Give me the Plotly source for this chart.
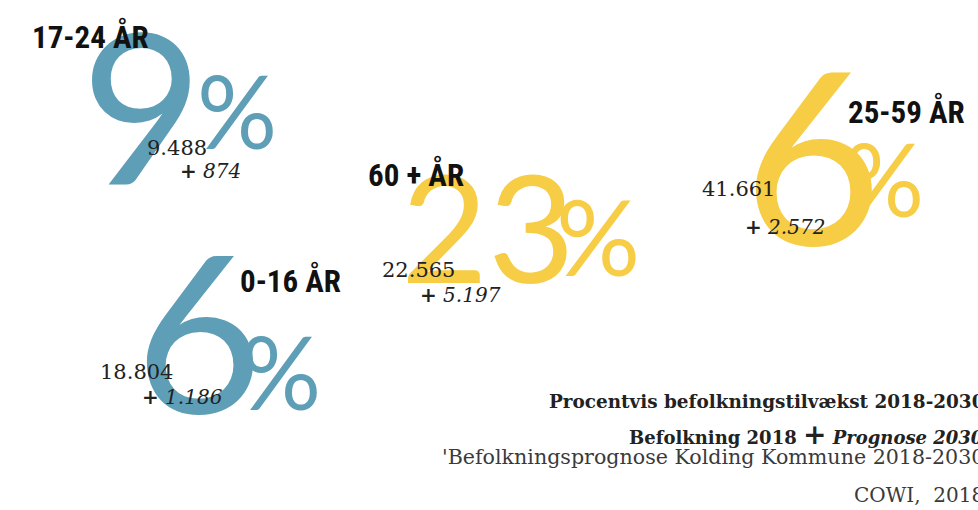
import plotly.graph_objects as go

# ---- data ----
groups = ["17-24 ÅR", "60 + ÅR", "25-59 ÅR", "0-16 ÅR"]
growth_pct = [9, 23, 6, 6]
pop_2018 = [9488, 22565, 41661, 18804]
increase_2030 = [874, 5197, 2572, 1186]
title_lines = [
    "Procentvis befolkningstilvækst 2018-2030",
    "Befolkning 2018",
    "Prognose 2030",
    "'Befolkningsprognose Kolding Kommune 2018-2030",
    "COWI,  2018",
]

# ---- styling / layout (pixel positions of each block, as seen on the page) ----
BLUE = "#5e9eb6"
YELLOW = "#f6cd45"
colors = [BLUE, YELLOW, YELLOW, BLUE]
digit_pos = [(142, 104), (488, 225), (812, 152), (199, 328)]
digit_size = [210, 150, 240, 220]
pct_pos = [(237, 110), (598, 235), (884, 178), (281, 371)]
pct_size = [100, 105, 100, 100]
label_pos = [(30, 36), (366, 174), (846, 111), (238, 280)]
pop_pos = [(145, 148), (380, 270), (700, 189), (98, 372)]
inc_pos = [(178, 171), (418, 295), (743, 227), (140, 397)]
foot_right = 986
foot_y = [401, 434, 457, 495]
foot_size = [18.4, 18, 20.6, 20]

BIG_FONT = "Lato, Open Sans, sans-serif"
LABEL_FONT = "Liberation Sans Narrow, Roboto Condensed, Noto Sans Condensed, DejaVu Sans Condensed, sans-serif"
NUM_FONT = "DejaVu Serif, Liberation Serif, serif"

W, H = 978, 510


def dk(n):
    return f"{n:,}".replace(",", ".")


fig = go.Figure()
fig.add_trace(go.Scatter(x=[0, W], y=[0, H], mode="markers",
                         marker=dict(opacity=0), hoverinfo="skip", showlegend=False))

ann = []
for i, g in enumerate(groups):
    ann.append(dict(x=digit_pos[i][0], y=digit_pos[i][1], text=str(growth_pct[i]),
                    font=dict(family=BIG_FONT, size=digit_size[i], color=colors[i]),
                    xanchor="center", yanchor="middle", showarrow=False))
    ann.append(dict(x=pct_pos[i][0], y=pct_pos[i][1], text="%",
                    font=dict(family=BIG_FONT, size=pct_size[i], color=colors[i]),
                    xanchor="center", yanchor="middle", showarrow=False))
for i, g in enumerate(groups):
    ann.append(dict(x=label_pos[i][0], y=label_pos[i][1], text=f"<b>{g}</b>",
                    font=dict(family=LABEL_FONT, size=31, color="#111111"),
                    xanchor="left", yanchor="middle", showarrow=False))
    ann.append(dict(x=pop_pos[i][0], y=pop_pos[i][1], text=dk(pop_2018[i]),
                    font=dict(family=NUM_FONT, size=21, color="#222222"),
                    xanchor="left", yanchor="middle", showarrow=False))
    ann.append(dict(x=inc_pos[i][0], y=inc_pos[i][1], text=f"<i><b>+</b> {dk(increase_2030[i])}</i>",
                    font=dict(family=NUM_FONT, size=20, color="#222222"),
                    xanchor="left", yanchor="middle", showarrow=False))

foot_text = [
    f"<b>{title_lines[0]}</b>",
    f"<b>{title_lines[1]} </b><span style='font-size:28px'><b>+</b></span><b><i> {title_lines[2]}</i></b>",
    title_lines[3],
    title_lines[4],
]
foot_color = ["#222222", "#222222", "#3a3a3a", "#3a3a3a"]
for t, yv, s, c in zip(foot_text, foot_y, foot_size, foot_color):
    ann.append(dict(xref="paper", yref="paper", x=foot_right / W, y=1 - yv / H, text=t,
                    font=dict(family=NUM_FONT, size=s, color=c),
                    xanchor="right", yanchor="middle", showarrow=False))

fig.update_layout(
    width=W, height=H,
    margin=dict(l=0, r=0, t=0, b=0),
    paper_bgcolor="white", plot_bgcolor="white",
    xaxis=dict(range=[0, W], visible=False, fixedrange=True),
    yaxis=dict(range=[H, 0], visible=False, fixedrange=True),
    annotations=ann,
    showlegend=False,
)
fig.write_html("out.html", config={"displayModeBar": False},
               post_script="document.body.style.margin='0';document.body.style.overflow='hidden';")
